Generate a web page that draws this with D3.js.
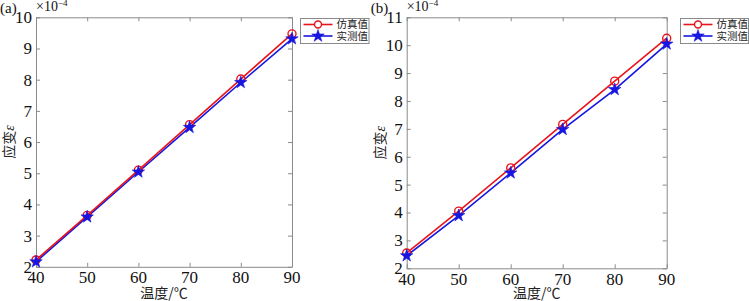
<!DOCTYPE html>
<html><head><meta charset="utf-8">
<script src="https://cdn.jsdelivr.net/npm/d3@7"></script>
<style>
body{margin:0;background:#fff;}
svg{display:block;}
</style></head>
<body>
<svg id="c" width="749" height="301"></svg>
<script>
const temps = [40, 50, 60, 70, 80, 90];
const xTicks = [40, 50, 60, 70, 80, 90];
const simA = [2.22, 3.65, 5.10, 6.56, 8.02, 9.47];
const measA = [2.16, 3.60, 5.04, 6.47, 7.91, 9.31];
const yTicksA = [2, 3, 4, 5, 6, 7, 8, 9, 10];
const simB = [2.55, 4.05, 5.60, 7.16, 8.71, 10.25];
const measB = [2.45, 3.89, 5.42, 6.98, 8.41, 10.04];
const yTicksB = [2, 3, 4, 5, 6, 7, 8, 9, 10, 11];
const seriesNames = ["仿真值", "实测值"];
const xLabel = "温度/℃";
const yLabel = "应变ε";

const red = "#e8141c", blue = "#1616e0", axisCol = "#8a8a8a";
const serif = "'Liberation Serif','Times New Roman',serif";
const cjk = "'Noto Sans CJK SC','Liberation Serif',serif";

const svg = d3.select("#c");

function panel(cfg){
  const g = svg.append("g");
  const x = d3.scaleLinear().domain([40, 90]).range([cfg.l, cfg.r]);
  const y = d3.scaleLinear().domain(cfg.yDom).range([cfg.b, cfg.t]);
  const tl = 4;
  // axes with inward ticks
  g.append("g").attr("transform", `translate(0,${cfg.b})`)
    .call(d3.axisBottom(x).tickValues(xTicks).tickSizeInner(-tl).tickSizeOuter(0).tickFormat(""));
  g.append("g").attr("transform", `translate(0,${cfg.t})`)
    .call(d3.axisTop(x).tickValues(xTicks).tickSizeInner(-tl).tickSizeOuter(0).tickFormat(""));
  g.append("g").attr("transform", `translate(${cfg.l},0)`)
    .call(d3.axisLeft(y).tickValues(cfg.yTicks).tickSizeInner(-tl).tickSizeOuter(0).tickFormat(""));
  g.append("g").attr("transform", `translate(${cfg.r},0)`)
    .call(d3.axisRight(y).tickValues(cfg.yTicks).tickSizeInner(-tl).tickSizeOuter(0).tickFormat(""));
  g.selectAll(".domain").attr("stroke", axisCol).attr("stroke-width", 1);
  g.selectAll(".tick line").attr("stroke", axisCol).attr("stroke-width", 1);

  // tick labels
  g.selectAll(".xl").data(xTicks).enter().append("text")
    .attr("x", d => x(d)).attr("y", cfg.b + 16.5)
    .attr("text-anchor", "middle").attr("font-family", serif).attr("font-size", 17)
    .attr("fill", "#111").text(d => d);
  g.selectAll(".yl").data(cfg.yTicks).enter().append("text")
    .attr("x", cfg.l - 4).attr("y", d => y(d)).attr("dy", "0.35em")
    .attr("text-anchor", "end").attr("font-family", serif).attr("font-size", 17)
    .attr("fill", "#111").text(d => d);

  // exponent
  const ex = g.append("text").attr("x", cfg.l).attr("y", 11)
    .attr("font-family", serif).attr("font-size", 14).attr("fill", "#111");
  ex.append("tspan").text("×10");
  ex.append("tspan").attr("dy", -5).attr("font-size", 9).text("−4");

  // panel label
  g.append("text").attr("x", cfg.l - 36).attr("y", 13)
    .attr("font-family", serif).attr("font-size", 15).attr("fill", "#111").text(cfg.name);

  // axis titles
  g.append("text").attr("x", (cfg.l + cfg.r) / 2).attr("y", 298)
    .attr("text-anchor", "middle").attr("font-family", cjk).attr("font-size", 14)
    .attr("fill", "#222").text(xLabel);
  const yt = g.append("text")
    .attr("transform", `translate(${cfg.l - 22},${(cfg.t + cfg.b) / 2}) rotate(-90)`)
    .attr("text-anchor", "middle").attr("font-family", cjk).attr("font-size", 14)
    .attr("fill", "#222");
  yt.append("tspan").text("应变");
  yt.append("tspan").attr("font-family", serif).attr("font-style", "italic").text("ε");

  const line = d3.line().x((d, i) => x(temps[i])).y(d => y(d));
  const star = d3.symbol().type(d3.symbolStar).size(48);

  // measured (blue) and simulated (red)
  g.append("path").datum(cfg.meas).attr("d", line).attr("fill", "none")
    .attr("stroke", blue).attr("stroke-width", 1.6);
  g.append("path").datum(cfg.sim).attr("d", line).attr("fill", "none")
    .attr("stroke", red).attr("stroke-width", 1.6);
  g.selectAll(".cm").data(cfg.sim).enter().append("circle")
    .attr("cx", (d, i) => x(temps[i])).attr("cy", d => y(d)).attr("r", 4)
    .attr("fill", "none").attr("stroke", red).attr("stroke-width", 1.4);
  g.selectAll(".sm").data(cfg.meas).enter().append("path")
    .attr("d", star).attr("transform", (d, i) => `translate(${x(temps[i])},${y(d)})`)
    .attr("fill", blue).attr("stroke", blue).attr("stroke-width", 0.6);

  // legend
  const lg = g.append("g").attr("transform", `translate(${cfg.lgx},18.5)`);
  lg.append("rect").attr("x", 0).attr("y", 0).attr("width", cfg.lgw).attr("height", 25)
    .attr("fill", "#fff").attr("stroke", axisCol).attr("stroke-width", 1);
  const rows = [{c: red, y: 6, m: "o"}, {c: blue, y: 17.5, m: "s"}];
  rows.forEach((r, i) => {
    lg.append("line").attr("x1", 3).attr("x2", 32).attr("y1", r.y).attr("y2", r.y)
      .attr("stroke", r.c).attr("stroke-width", 1.6);
    if (r.m === "o") {
      lg.append("circle").attr("cx", 17.5).attr("cy", r.y).attr("r", 3.5)
        .attr("fill", "#fff").attr("stroke", r.c).attr("stroke-width", 1.4);
    } else {
      lg.append("path").attr("d", star).attr("transform", `translate(17.5,${r.y})`)
        .attr("fill", r.c).attr("stroke", r.c).attr("stroke-width", 0.6);
    }
    lg.append("text").attr("x", 36).attr("y", r.y).attr("dy", "0.36em")
      .attr("font-family", cjk).attr("font-size", 10.5).attr("fill", "#222")
      .text(seriesNames[i]);
  });
}

panel({name: "(a)", l: 36, r: 292, t: 17.3, b: 266.8, yDom: [2, 10], yTicks: yTicksA,
       sim: simA, meas: measA, lgx: 300.5, lgw: 68.5});
panel({name: "(b)", l: 406.7, r: 666.7, t: 17.3, b: 268.3, yDom: [2, 11], yTicks: yTicksB,
       sim: simB, meas: measB, lgx: 680.5, lgw: 68});
</script>
</body></html>
